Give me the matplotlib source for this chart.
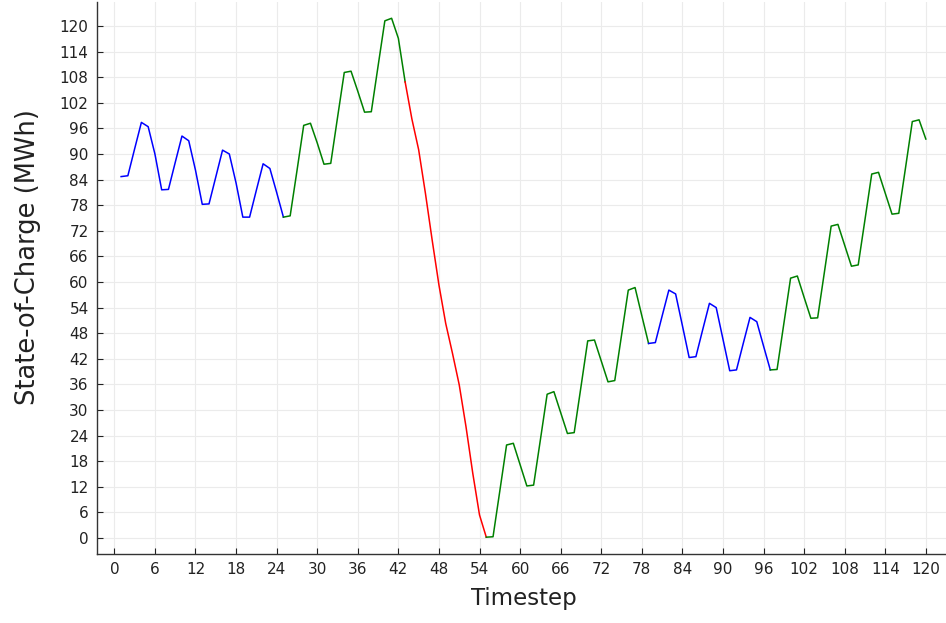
import numpy as np
import matplotlib
matplotlib.use("Agg")
import matplotlib.pyplot as plt

# state of charge per timestep
timestep = np.arange(1, 121)
soc = [84.7, 84.9, 91.2, 97.4, 96.4, 90.0, 81.6, 81.7, 88.0, 94.2,
       93.1, 86.2, 78.2, 78.3, 84.6, 90.9, 90.0, 83.2, 75.2, 75.2,
       81.5, 87.7, 86.6, 81.0, 75.2, 75.5, 86.0, 96.7, 97.2, 92.6,
       87.6, 87.8, 98.5, 109.1, 109.4, 104.7, 99.8, 99.9, 110.6, 121.2,
       121.8, 117.1, 106.9, 98.2, 91.0, 80.8, 69.8, 59.3, 50.3, 43.3,
       35.9, 26.1, 15.2, 5.4, 0.2, 0.3, 11.0, 21.8, 22.2, 17.2,
       12.2, 12.4, 23.0, 33.7, 34.3, 29.4, 24.5, 24.7, 35.4, 46.2,
       46.4, 41.5, 36.6, 36.9, 47.5, 58.1, 58.7, 52.1, 45.6, 45.8,
       52.0, 58.1, 57.2, 49.8, 42.3, 42.5, 48.8, 55.0, 54.0, 46.6,
       39.2, 39.4, 45.6, 51.7, 50.7, 45.0, 39.4, 39.5, 50.2, 60.9,
       61.4, 56.4, 51.5, 51.6, 62.3, 73.1, 73.5, 68.6, 63.7, 64.0,
       74.6, 85.3, 85.7, 80.8, 75.9, 76.1, 86.8, 97.6, 98.0, 93.5]
soc = np.array(soc)

# colored pieces: (first timestep, last timestep, colour)
pieces = [(1, 25, "blue"), (25, 43, "green"), (43, 55, "red"),
          (55, 79, "green"), (79, 97, "blue"), (97, 120, "green")]

xticks = np.arange(0, 121, 6)
yticks = np.arange(0, 121, 6)

fig = plt.figure(figsize=(9.46, 6.23), dpi=100)
ax = fig.add_axes([0.1025, 0.1114, 0.9017, 0.8846])

for a, b, c in pieces:
    sel = (timestep >= a) & (timestep <= b)
    ax.plot(timestep[sel], soc[sel], color=c, lw=1.1)

ax.set_xlim(1 - 3.57, 120 + 3.57)
ax.set_ylim(-3.65, 125.5)
ax.set_xticks(xticks)
ax.set_yticks(yticks)
ax.grid(True, color="#ebebeb", lw=0.8)
ax.set_axisbelow(True)
for s in ["top", "right"]:
    ax.spines[s].set_visible(False)
for s in ["left", "bottom"]:
    ax.spines[s].set_color("#333333")
    ax.spines[s].set_linewidth(1.0)
ax.tick_params(direction="in", length=4.5, width=0.8, labelsize=11,
               colors="#222222", pad=6)
ax.set_xlabel("Timestep", fontsize=16.5, labelpad=7, color="#222222")
ax.set_ylabel("State-of-Charge (MWh)", fontsize=18.5, color="#222222")
ax.yaxis.set_label_coords(-0.066, 0.538)

plt.savefig("out.png", dpi=100)
